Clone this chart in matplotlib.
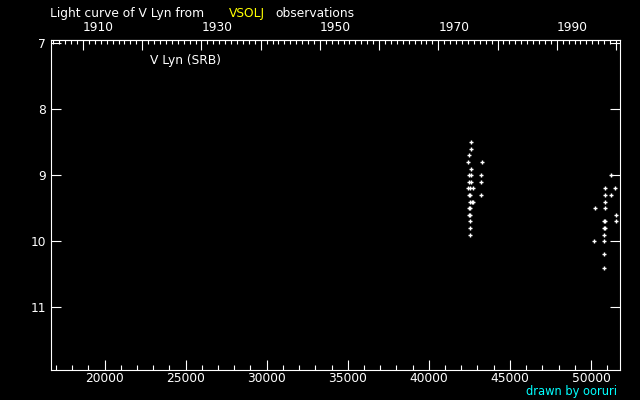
import matplotlib
matplotlib.use("Agg")
import matplotlib.pyplot as plt
from matplotlib.ticker import MultipleLocator, FuncFormatter

# Observations (JD - 2400000, visual magnitude)
jd = [42620, 42620, 42500, 42440, 43300, 42620, 42500, 42620, 43240,
      42500, 42620, 43240, 42440, 42560, 42745, 42500, 42560, 43240,
      42530, 42650, 42745, 42500, 42560, 42500, 42560, 42560, 42560, 42560,
      51217, 50884, 51501, 50884, 51254, 50884, 50267, 50884, 51563,
      50835, 50884, 51563, 50835, 50884, 50820, 50205, 50820, 50820, 50820]
mag = [8.5, 8.6, 8.7, 8.8, 8.8, 8.9, 9.0, 9.0, 9.0,
       9.1, 9.1, 9.1, 9.2, 9.2, 9.2, 9.3, 9.3, 9.3,
       9.4, 9.4, 9.4, 9.5, 9.5, 9.6, 9.6, 9.7, 9.8, 9.9,
       9.0, 9.2, 9.2, 9.3, 9.3, 9.4, 9.5, 9.5, 9.6,
       9.7, 9.7, 9.7, 9.8, 9.8, 9.9, 10.0, 10.0, 10.2, 10.4]

star_label = "V Lyn (SRB)"
title_parts = ["Light curve of V Lyn from", "VSOLJ", "observations"]
credit = "drawn by ooruri"

W, H = 640, 400
fig = plt.figure(figsize=(6.4, 4.0), dpi=100, facecolor="black")
ax = fig.add_axes([50.7 / W, 1 - 370.3 / H, 569.6 / W, 330 / H], facecolor="black")

ax.plot(jd, mag, linestyle="none", marker="+", color="white", markersize=3.4, markeredgewidth=1.0)

ax.set_xlim(16680, 51810)
ax.set_ylim(11.955, 6.955)

for s in ax.spines.values():
    s.set_color("white")
    s.set_linewidth(0.8)

fs = 8.8
px = 0.72
ax.xaxis.set_major_locator(MultipleLocator(5000))
ax.xaxis.set_minor_locator(MultipleLocator(1000))
ax.yaxis.set_major_locator(MultipleLocator(1))
ax.tick_params(axis="x", which="major", direction="in", length=10 * px, width=0.8,
               color="white", labelcolor="white", labelsize=fs, pad=2 * px, top=False)
ax.tick_params(axis="x", which="minor", direction="in", length=5 * px, width=0.8,
               color="white", top=False)
ax.tick_params(axis="y", which="major", direction="in", length=10 * px, width=0.8,
               color="white", labelcolor="white", labelsize=fs, pad=5 * px, right=True)

# top axis in years
def jd2yr(x):
    return 2000.0 + (x - 51544.5) / 365.25

def yr2jd(y):
    return 51544.5 + (y - 2000.0) * 365.25

sec = ax.secondary_xaxis("top", functions=(jd2yr, yr2jd))
sec.spines["top"].set_color("white")
sec.xaxis.set_major_locator(MultipleLocator(10))
sec.xaxis.set_minor_locator(MultipleLocator(1))
sec.xaxis.set_major_formatter(FuncFormatter(
    lambda v, p: f"{int(round(v))}" if int(round(v)) % 20 == 10 and v < 1995 else ""))
sec.tick_params(axis="x", which="major", direction="in", length=10 * px, width=0.8,
                color="white", labelcolor="white", labelsize=fs, pad=6 * px)
sec.tick_params(axis="x", which="minor", direction="in", length=4 * px, width=0.8, color="white")

fig.text(50 / W, 1 - 16.7 / H, title_parts[0], color="white", fontsize=fs, va="baseline", ha="left")
fig.text(229 / W, 1 - 16.7 / H, title_parts[1], color="#ffff00", fontsize=fs, va="baseline", ha="left")
fig.text(275 / W, 1 - 16.7 / H, title_parts[2], color="white", fontsize=fs, va="baseline", ha="left")
fig.text(150 / W, 1 - 60.7 / H, star_label, color="white", fontsize=fs, va="center", ha="left")
fig.text(617.5 / W, 1 - 394.5 / H, credit, color="#00ffff", fontsize=8.3, va="baseline", ha="right")

fig.canvas.draw()
for t in sec.xaxis.get_major_ticks():
    t.label1.set_ha("left")
    t.label2.set_ha("left")

fig.savefig("out.png", dpi=100, facecolor="black")
